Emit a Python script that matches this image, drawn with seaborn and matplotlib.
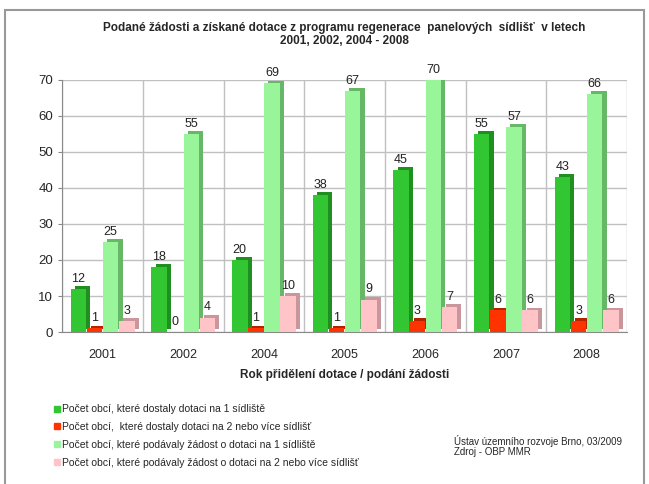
import pandas as pd
import numpy as np
import matplotlib
matplotlib.use("Agg")
import matplotlib.pyplot as plt
import matplotlib.patheffects as pe
from matplotlib.lines import Line2D
import seaborn as sns

# data
years = ["2001", "2002", "2004", "2005", "2006", "2007", "2008"]
got_one = [12, 18, 20, 38, 45, 55, 43]
got_more = [1, 0, 1, 1, 3, 6, 3]
asked_one = [25, 55, 69, 67, 70, 57, 66]
asked_more = [3, 4, 10, 9, 7, 6, 6]
series = [
    "Počet obcí, které dostaly dotaci na 1 sídliště",
    "Počet obcí,  které dostaly dotaci na 2 nebo více sídlišť",
    "Počet obcí, které podávaly žádost o dotaci na 1 sídliště",
    "Počet obcí, které podávaly žádost o dotaci na 2 nebo více sídlišť",
]
colors = ["#33c633", "#ff3300", "#99f599", "#ffc4c8"]
shadow = ["#1f8f1f", "#b02400", "#66b866", "#c9979b"]

df = pd.DataFrame({"year": years, series[0]: got_one, series[1]: got_more,
                   series[2]: asked_one, series[3]: asked_more})
long = df.melt(id_vars="year", var_name="series", value_name="count")

sns.set_style("white")
plt.rcParams["font.family"] = ["Liberation Sans", "DejaVu Sans"]

fig = plt.figure(figsize=(6.49, 4.84), dpi=100)
ax = fig.add_axes([0.096, 0.314, 0.87, 0.521])

sns.barplot(data=long, x="year", y="count", hue="series", hue_order=series,
            palette=colors, saturation=1, width=0.8, gap=0.04, linewidth=0,
            ax=ax, legend=False, zorder=3)

for i, cont in enumerate(ax.containers):
    for bar in cont:
        bar.set_path_effects([pe.SimplePatchShadow(offset=(3, 2),
                              shadow_rgbFace=shadow[i], alpha=1), pe.Normal()])
    ax.bar_label(cont, padding=3, fontsize=9, color="#222222")

ax.set_ylim(0, 70)
ax.set_yticks(range(0, 71, 10))
ax.set_xticks(np.arange(-0.5, len(years), 1), minor=True)
ax.grid(True, axis="y", color="#c0c0c0", linewidth=1, zorder=0)
ax.grid(False, axis="x")
ax.grid(True, axis="x", which="minor", color="#c0c0c0", linewidth=1)
ax.tick_params(axis="x", which="major", length=0, labelsize=9, pad=12)
ax.tick_params(axis="x", which="minor", length=4, color="#888888")
ax.tick_params(axis="y", labelsize=9.5, length=3, left=True, color="#888888")
for s in ["top", "right"]:
    ax.spines[s].set_visible(False)
for s in ["left", "bottom"]:
    ax.spines[s].set_color("#888888")
ax.set_xlabel("Rok přidělení dotace / podání žádosti", fontsize=8.5,
              fontweight="bold", labelpad=6)
ax.set_ylabel("")

fig.text(0.53, 0.955, "Podané žádosti a získané dotace z programu regenerace  panelových  sídlišť  v letech\n2001, 2002, 2004 - 2008",
         ha="center", va="top", fontsize=8.5, fontweight="bold", linespacing=1.15)

# legend
handles = [Line2D([], [], marker="s", linestyle="", color=c, markersize=4) for c in colors]
fig.legend(handles, series, loc="lower left", bbox_to_anchor=(0.075, 0.025), frameon=False,
           fontsize=7.5, handletextpad=0.1, labelspacing=0.75, borderaxespad=0,
           handlelength=0.8)

fig.text(0.7, 0.055, "Ústav územního rozvoje Brno, 03/2009\nZdroj - OBP MMR",
         fontsize=7, va="bottom", ha="left", linespacing=1.1)

# outer frame
fig.patches.append(plt.Rectangle((0.008, -0.01), 0.985, 0.99, transform=fig.transFigure,
                                 fill=False, edgecolor="#999999", linewidth=1.5))

fig.savefig("out.png", dpi=100)
